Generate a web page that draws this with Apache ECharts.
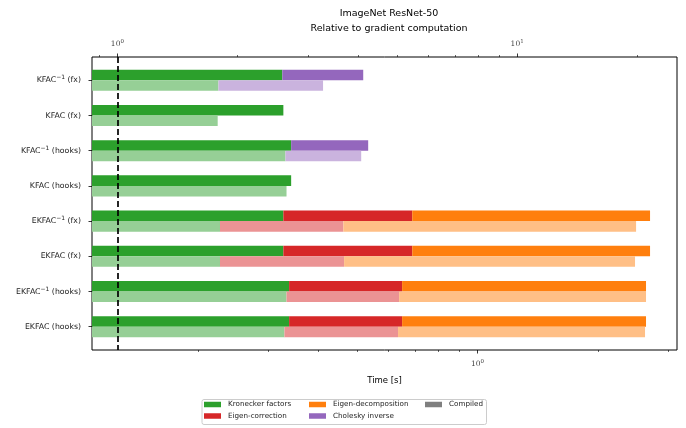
<!DOCTYPE html>
<html>
<head>
<meta charset="utf-8">
<script src="https://cdn.jsdelivr.net/npm/echarts@6/dist/echarts.min.js"></script>
<style>
  html, body { margin: 0; padding: 0; background: #fff; }
  #chart { width: 686px; height: 428px; }
</style>
</head>
<body>
<div id="chart"></div>
<script>
// rows, top to bottom
const rows = ['KFAC^-1 (fx)', 'KFAC (fx)', 'KFAC^-1 (hooks)', 'KFAC (hooks)', 'EKFAC^-1 (fx)', 'EKFAC (fx)', 'EKFAC^-1 (hooks)', 'EKFAC (hooks)']
const components = ['Kronecker factors', 'Eigen-correction', 'Eigen-decomposition', 'Cholesky inverse']

// time [s] per component, plain run
const kronecker = [0.325, 0.327, 0.342, 0.342, 0.327, 0.327, 0.338, 0.338]
const eigenCorrection = [0, 0, 0, 0, 0.360, 0.360, 0.310, 0.310]
const eigenDecomposition = [0, 0, 0, 0, 2.016, 2.016, 1.993, 1.993]
const cholesky = [0.193, 0, 0.191, 0, 0, 0, 0, 0]

// time [s] per component, compiled run
const kroneckerCompiled = [0.225, 0.224, 0.331, 0.333, 0.227, 0.227, 0.333, 0.329]
const eigenCorrectionCompiled = [0, 0, 0, 0, 0.235, 0.237, 0.304, 0.304]
const eigenDecompositionCompiled = [0, 0, 0, 0, 2.032, 2.015, 2.004, 1.993]
const choleskyCompiled = [0.186, 0, 0.181, 0, 0, 0, 0, 0]

// gradient computation time [s]
const gradientTime = 0.1257

const timeMin = 0.1086
const timeMax = 3.157
const bottomMajor = [1]
const bottomMinor = [0.2, 0.3, 0.4, 0.5, 0.6, 0.7, 0.8, 0.9, 2, 3]
const topMajor = [1, 10]
const topMinor = [0.9, 2, 3, 4, 5, 6, 7, 8, 9, 20]

const colors = {
  'Kronecker factors': ['#2ca02c', '#96cf96'],
  'Eigen-correction': ['#d62728', '#eb9394'],
  'Eigen-decomposition': ['#ff7f0e', '#ffbf86'],
  'Cholesky inverse': ['#9467bd', '#cab3de']
}

const BAR_H = 0.3
const FONT = '"DejaVu Sans", sans-serif'

/** 累积成 [start, end, row, offset] */
function segments(parts, offset) {
  const result = parts.map(() => [])
  rows.forEach((_, row) => {
    let acc = 0
    parts.forEach((values, k) => {
      const v = values[row]
      if (v > 0) result[k].push([acc, acc + v, row, offset])
      acc += v
    })
  })
  return result
}

function renderSegment(params, api) {
  const start = api.value(0)
  const end = api.value(1)
  const y = api.value(2) + api.value(3)
  const cs = params.coordSys
  const p1 = api.coord([end, y])
  const p2 = api.coord([end, y + BAR_H])
  const x0 = start > 0 ? api.coord([start, y])[0] : cs.x
  return {
    type: 'rect',
    shape: { x: x0, y: Math.min(p1[1], p2[1]), width: p1[0] - x0, height: Math.abs(p2[1] - p1[1]) },
    style: { fill: api.visual('color') }
  }
}

const plain = segments([kronecker, eigenCorrection, eigenDecomposition, cholesky], -BAR_H)
const compiled = segments([kroneckerCompiled, eigenCorrectionCompiled, eigenDecompositionCompiled, choleskyCompiled], 0)

const series = []
components.forEach((name, k) => {
  series.push({
    type: 'custom', name, renderItem: renderSegment,
    itemStyle: { color: colors[name][0] },
    encode: { x: 1, y: 2 }, data: plain[k], silent: true
  })
  series.push({
    type: 'custom', name, renderItem: renderSegment,
    itemStyle: { color: colors[name][1] },
    encode: { x: 1, y: 2 }, data: compiled[k], silent: true
  })
})
series.push({ type: 'custom', name: 'Compiled', renderItem: renderSegment, itemStyle: { color: '#7f7f7f' }, data: [] })
// 梯度计算时间：上轴 (相对时间) 的 1
series.push({
  type: 'line', name: 'gradient', data: [], silent: true, xAxisIndex: 2,
  markLine: {
    symbol: 'none', silent: true, z: 10,
    label: { show: false },
    lineStyle: { color: '#000', width: 1.7, type: [6, 3] },
    data: [{ xAxis: 1 }]
  }
})

const powRich = {
  b: { fontFamily: '"DejaVu Serif", serif', fontSize: 7.5, color: '#444', lineHeight: 11 },
  s: { fontFamily: '"DejaVu Serif", serif', fontSize: 5.5, color: '#444', verticalAlign: 'top', lineHeight: 6 }
}
const powLabel = v => '{b|10}{s|' + Math.round(Math.log10(v)) + '}'

function logAxis(position, min, max, major, minor, margin, withName) {
  const base = {
    type: 'log', position, min, max,
    axisLine: { show: false, onZero: false },
    splitLine: { show: false }
  }
  return [
    Object.assign({}, base, {
      axisTick: { customValues: major, length: 3.5, lineStyle: { color: '#000', width: 0.8 } },
      axisLabel: { customValues: major, formatter: powLabel, rich: powRich, margin },
      name: withName ? 'Time [s]' : '',
      nameLocation: 'middle', nameGap: 26,
      nameTextStyle: { fontFamily: FONT, fontSize: 8.5, color: '#000' }
    }),
    Object.assign({}, base, {
      axisTick: { customValues: minor, length: 2, lineStyle: { color: '#000', width: 0.6 } },
      axisLabel: { show: false }
    })
  ]
}

const rowLabel = v => {
  const text = rows[Math.round(v)] || ''
  return text.replace('^-1', '{sup|\u22121}')
}

const option = {
  animation: false,
  title: {
    text: 'ImageNet ResNet-50',
    subtext: 'Relative to gradient computation',
    left: 384, top: 4, textAlign: 'center', itemGap: 5,
    textStyle: { fontFamily: FONT, fontSize: 9.5, fontWeight: 'normal', color: '#000' },
    subtextStyle: { fontFamily: FONT, fontSize: 9.5, color: '#000' }
  },
  grid: {
    left: 92, right: 9, top: 57, bottom: 78,
    show: true, borderColor: '#000', borderWidth: 1, backgroundColor: 'transparent'
  },
  xAxis: [
    ...logAxis('bottom', timeMin, timeMax, bottomMajor, bottomMinor, 9, true),
    ...logAxis('top', timeMin / gradientTime, timeMax / gradientTime, topMajor, topMinor, 7, false)
  ],
  yAxis: {
    type: 'value', inverse: true, min: -0.661, max: 7.661,
    axisLine: { show: false, onZero: false },
    splitLine: { show: false },
    axisTick: { customValues: [0, 1, 2, 3, 4, 5, 6, 7], length: 3.5, lineStyle: { color: '#000', width: 0.8 } },
    axisLabel: {
      customValues: [0, 1, 2, 3, 4, 5, 6, 7],
      formatter: rowLabel, margin: 11,
      fontFamily: FONT, fontSize: 7.8, color: '#222', lineHeight: 11,
      rich: { sup: { fontFamily: FONT, fontSize: 6, color: '#222', verticalAlign: 'top', lineHeight: 6 } }
    }
  },
  legend: [
    { data: ['Kronecker factors', 'Eigen-correction'], left: 204 },
    { data: ['Eigen-decomposition', 'Cholesky inverse'], left: 309 },
    { data: ['Compiled'], left: 425 }
  ].map(l => Object.assign({
    top: 401, orient: 'vertical', padding: 0, icon: 'rect',
    itemWidth: 17, itemHeight: 5.5, itemGap: 4.5,
    selectedMode: false,
    textStyle: { fontFamily: FONT, fontSize: 7.2, color: '#222', padding: [0, 0, 0, 2] }
  }, l)),
  graphic: [{
    type: 'rect', left: 201.5, top: 399, z: -1,
    shape: { width: 284.5, height: 25, r: 2 },
    style: { fill: '#fff', stroke: '#cccccc', lineWidth: 1 }
  }],
  series
}

const chart = echarts.init(document.getElementById('chart'), null, { renderer: 'canvas' })
chart.setOption(option)
</script>
</body>
</html>
